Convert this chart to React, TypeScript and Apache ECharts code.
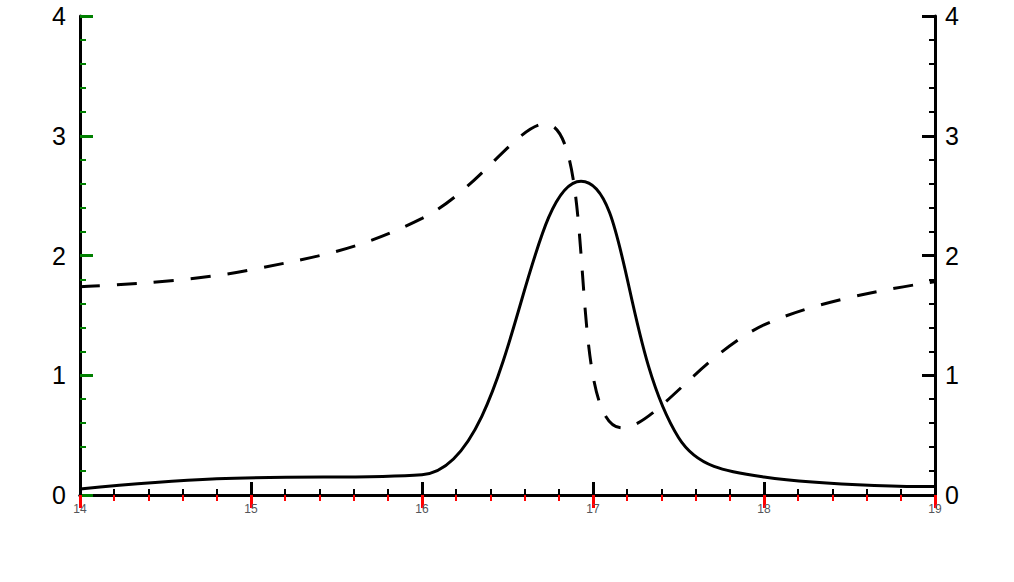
import React, { useEffect, useRef } from "react";
import * as echarts from "echarts";

const FONT = "'Liberation Sans', Arial, Helvetica, sans-serif";
const xTicks = [14, 15, 16, 17, 18, 19];
const yTicks = [0, 1, 2, 3, 4];
const gFreq = [14.0, 14.8, 16.0, 16.93, 17.5, 18.0, 19.0];
const gValues = [0.05, 0.135, 0.17, 2.62, 0.48, 0.15, 0.07];
const bFreq = [14.0, 15.0, 16.0, 16.72, 17.17, 18.0, 19.0];
const bValues = [1.74, 1.88, 2.31, 3.1, 0.56, 1.42, 1.78];

export default function App() {
  const ref = useRef<HTMLDivElement>(null);
  useEffect(() => {
    document.body.style.margin = "0";
    if (!ref.current) return;
    const chart = echarts.init(ref.current, null, { renderer: "svg" });
    const tick = (c: string) => ({ show: true, inside: true, length: 13, lineStyle: { color: c, width: 3 } });
    const minor = (c: string) => ({ show: true, splitNumber: 5, length: 6, lineStyle: { color: c, width: 2 } });
    chart.setOption({
      animation: false,
      grid: { left: 80, right: 79, top: 16, bottom: 87 },
      xAxis: [
        {
          type: "value", min: 14, max: 19, interval: 1, position: "bottom",
          axisLine: { show: true, lineStyle: { color: "#000", width: 3 } },
          axisTick: tick("#000"), minorTick: minor("#000"), splitLine: { show: false },
        },
        {
          type: "value", min: 14, max: 19, interval: 1, position: "top",
          axisLine: { show: true, lineStyle: { color: "#000", width: 3 } },
          axisTick: tick("red"), minorTick: minor("red"), splitLine: { show: false },
          axisLabel: { show: false },
        },
      ],
      yAxis: [
        {
          type: "value", min: 0, max: 4, interval: 1, position: "left",
          axisLine: { show: true, lineStyle: { color: "#000", width: 3 } },
          axisTick: tick("green"), minorTick: minor("green"), splitLine: { show: false },
          axisLabel: { fontFamily: FONT, fontSize: 25, color: "#000", margin: 14 },
        },
        {
          type: "value", min: 0, max: 4, interval: 1, position: "right",
          axisLine: { show: true, lineStyle: { color: "#000", width: 3 } },
          axisTick: tick("#000"), minorTick: minor("#000"), splitLine: { show: false },
          axisLabel: { fontFamily: FONT, fontSize: 25, color: "#000", margin: 10 },
        },
      ],
      series: [
        { type: "line", data: gFreq.map((f, i) => [f, gValues[i]]), showSymbol: false, smooth: 0.4, lineStyle: { color: "#000", width: 3 } },
        { type: "line", yAxisIndex: 1, data: bFreq.map((f, i) => [f, bValues[i]]), showSymbol: false, smooth: 0.4, lineStyle: { color: "#000", width: 3, type: [20, 17] } },
      ],
    });
    return () => chart.dispose();
  }, []);
  return <div ref={ref} style={{ width: 1014, height: 582 }} />;
}
